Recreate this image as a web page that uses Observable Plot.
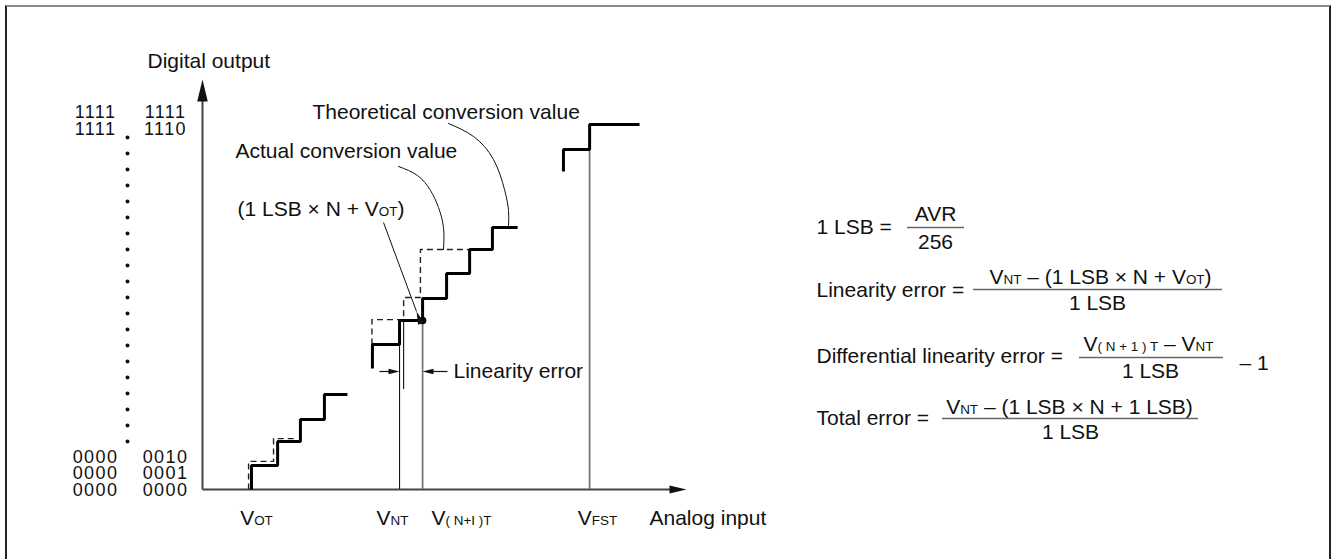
<!DOCTYPE html>
<html><head><meta charset="utf-8">
<script src="https://cdn.jsdelivr.net/npm/d3@7"></script>
<script src="https://cdn.jsdelivr.net/npm/@observablehq/plot@0.6"></script>
<style>
body{margin:0;background:#fff;}
#wrap{position:relative;width:1331px;height:559px;overflow:hidden;}
#frame{position:absolute;left:5px;top:5px;width:1326px;height:600px;border-top:2px solid #888;border-left:2px solid #222;border-right:2px solid #222;box-sizing:border-box;}
#chart{position:absolute;left:0;top:0;}
</style></head><body>
<div id="wrap"><div id="frame"></div><div id="chart"></div></div>
<script>
// ---------------- DATA (analog input and digital code, both in LSB units) ----------------
// Actual conversion value: end of each code's run on the analog axis, and the code level
const actualLowEnd  = [2.04, 3.13, 4.08, 5.08, 6.04];
const actualLowCode = [0, 1.00, 2.00, 2.92, 3.96];
const actualMidEnd  = [7.08, 8.21, 9.17, 10.17, 11.13, 12.08, 13.13];
const actualMidCode = [5.04, 6.04, 7.04, 7.96, 9.00, 10.00, 10.92];
const actualTopEnd  = [15.04, 16.13, 18.21];
const actualTopCode = [13.25, 14.17, 15.21];
// Theoretical conversion value
const theoLowEnd  = [1.92, 2.96, 3.96];
const theoLowCode = [0, 1.17, 2.12];
const theoMidEnd  = [7.06, 8.38, 9.08, 11.08];
const theoMidCode = [6.04, 7.08, 8.00, 10.00];
// Transition points (VNT, V(N+1)T, VFST) and guide lines
const thinGuideX  = [8.21, 8.38];
const thinGuideLo = [0, 4.17];
const thinGuideHi = [6.04, 7.08];
const grayGuideX  = [9.17, 16.13];
const grayGuideHi = [7.04, 14.17];
const markedPoint = {x: 9.17, code: 7.04};
// Tick / code labels
const xTickLabels   = ["V{OT}", "V{NT}", "V{( N+I )T}", "V{FST}"];
const codeLeftTop   = ["1111", "1111"];
const codeRightTop  = ["1111", "1110"];
const codeLeftBot   = ["0000", "0000", "0000"];
const codeRightBot  = ["0010", "0001", "0000"];

// ---------------- LAYOUT (pixel placement of the figure) ----------------
const W = 1331, H = 559, OX = 202, OY = 489, LSB = 24;
const X = px => (px - OX) / LSB;
const Y = py => (OY - py) / LSB;
const FONT = "Liberation Sans, Arial, Helvetica, sans-serif";
const FS = 21, CODE_FS = 18;

const pts = (xs, ys) => xs.map((x, i) => ({x, y: ys[i]}));
const P = arr => arr.map(([px, py]) => ({x: X(px), y: Y(py)}));

const headSymbol = {
  draw(ctx, size) {
    const r = Math.sqrt(size / Math.PI), w = r * 0.24;
    ctx.moveTo(0, 0); ctx.lineTo(-w, r); ctx.lineTo(w, r); ctx.closePath();
  }
};
const head = (x, y, rotate, len) => Plot.dot([{x, y}], {x: "x", y: "y", r: len, rotate, symbol: headSymbol, fill: "#111", stroke: "none"});

const stepStyle = {x: "x", y: "y", curve: "step-before", strokeLinejoin: "miter", strokeLinecap: "butt"};
const solid = {...stepStyle, stroke: "#000", strokeWidth: 3};
const dashed = {...stepStyle, stroke: "#222", strokeWidth: 1.4, strokeDasharray: "6,4"};

const theoLeader = P([[448,123],[473,136],[493,159],[504,189],[508,210],[508,226]]);
const actLeader  = P([[398,166],[417,175],[430,190],[438,207],[443,227],[443,249]]);

const annArrow = {x1: X(383), y1: Y(222), x2: X(416), y2: Y(311)};
const annRot = Math.atan2(annArrow.x2 - annArrow.x1, annArrow.y2 - annArrow.y1) * 180 / Math.PI;

const T = (items, opts) => Plot.text(items, {x: "x", y: "y", text: "t", fontSize: FS, fill: "#111", ...opts});
const t = (tx, px, py) => ({t: tx, x: X(px), y: Y(py)});
// stacked code labels: one multi-line text per column block
const codeBlock = (rows, px, pyCenter, rowPx) =>
  Plot.text([{t: rows.join("\n"), x: X(px), y: Y(pyCenter)}],
    {x: "x", y: "y", text: "t", fontSize: CODE_FS, lineHeight: rowPx / CODE_FS, textAnchor: "middle", fill: "#111"});

const plot = Plot.plot({
  width: W, height: H,
  marginTop: 0, marginRight: 0, marginBottom: 0, marginLeft: 0,
  x: {domain: [X(0), X(W)], axis: null},
  y: {domain: [Y(H), Y(0)], axis: null},
  style: {fontFamily: FONT, background: "transparent", overflow: "visible"},
  marks: [
    // axes
    Plot.link([{x1: 0, y1: 0, x2: 0, y2: Y(92)}, {x1: 0, y1: 0, x2: X(676), y2: 0}],
      {x1: "x1", y1: "y1", x2: "x2", y2: "y2", stroke: "#444", strokeWidth: 2}),
    head(0, Y(79), 0, 22),
    head(X(686), 0, 90, 17),
    // guide lines
    Plot.ruleX(thinGuideX.map((x, i) => ({x, y1: thinGuideLo[i], y2: thinGuideHi[i]})),
      {x: "x", y1: "y1", y2: "y2", stroke: "#111", strokeWidth: 1.1}),
    Plot.ruleX(grayGuideX.map((x, i) => ({x, y1: 0, y2: grayGuideHi[i]})),
      {x: "x", y1: "y1", y2: "y2", stroke: "#777", strokeWidth: 1.8}),
    // theoretical (dashed)
    Plot.line(pts(theoLowEnd, theoLowCode), dashed),
    Plot.line(pts(theoMidEnd, theoMidCode), dashed),
    // actual (solid)
    Plot.line(pts(actualLowEnd, actualLowCode), solid),
    Plot.line(pts(actualMidEnd, actualMidCode), solid),
    Plot.line(pts(actualTopEnd, actualTopCode), solid),
    Plot.dot([markedPoint], {x: "x", y: "code", r: 3.8, fill: "#000"}),
    // leaders
    Plot.line(theoLeader, {x: "x", y: "y", curve: "natural", stroke: "#111", strokeWidth: 1}),
    Plot.line(actLeader, {x: "x", y: "y", curve: "natural", stroke: "#111", strokeWidth: 1}),
    // annotation arrow
    Plot.link([annArrow], {x1: "x1", y1: "y1", x2: "x2", y2: "y2", stroke: "#111", strokeWidth: 1}),
    head(annArrow.x2, annArrow.y2, annRot + 180, 13),
    // linearity error arrows
    Plot.link([{x1: X(379), x2: X(392), y: Y(371)}, {x1: X(447), x2: X(430), y: Y(371)}],
      {x1: "x1", y1: "y", x2: "x2", y2: "y", stroke: "#111", strokeWidth: 1.2}),
    head(X(399), Y(371), 90, 11),
    head(X(422), Y(371), -90, 11),
    // vertical ellipsis between code labels
    Plot.dot(d3.range(20).map(i => ({x: X(127), y: Y(137 + i * 16)})), {x: "x", y: "y", r: 2, fill: "#111"}),
    // code labels
    codeBlock(codeLeftTop, 95, 120.5, 17),
    codeBlock(codeRightTop, 165, 120.5, 17),
    codeBlock(codeLeftBot, 95, 473.5, 16.5),
    codeBlock(codeRightBot, 165, 473.5, 16.5),
    // x tick labels
    T(xTickLabels.map((c, i) => t(c, [256, 392, 461, 597][i], 518)), {textAnchor: "middle"}),
    // titles / annotations
    T([t("Digital output", 147, 61), t("Analog input", 649, 518),
       t("Theoretical conversion value", 312, 112), t("Actual conversion value", 235, 151),
       t("Linearity error", 453, 371)], {textAnchor: "start"}),
    T([t("(1 LSB × N + V{OT})", 404, 209)], {textAnchor: "end"}),
    // formulas: labels
    T([t("1 LSB =", 816, 227), t("Linearity error =", 816, 290),
       t("Differential linearity error =", 816, 356), t("Total error =", 816, 418),
       t("– 1", 1239, 363)], {textAnchor: "start"}),
    // formulas: numerators / denominators
    T([t("AVR", 935, 214), t("256", 935, 242),
       t("V{NT} – (1 LSB × N + V{OT})", 1100, 277), t("1 LSB", 1097, 303),
       t("V{( N + 1 ) T} – V{NT}", 1148, 344), t("1 LSB", 1150, 371),
       t("V{NT} – (1 LSB × N + 1 LSB)", 1069, 407), t("1 LSB", 1070, 432)], {textAnchor: "middle"}),
    // fraction bars
    Plot.ruleY([{y: Y(227), x1: X(907), x2: X(964)}, {y: Y(289), x1: X(973), x2: X(1222)},
                {y: Y(357), x1: X(1079), x2: X(1223)}, {y: Y(418), x1: X(942), x2: X(1198)}],
      {y: "y", x1: "x1", x2: "x2", stroke: "#666", strokeWidth: 1.5})
  ]
});

// render {…} parts as small same-baseline text (subscript style); widen the code digits
plot.querySelectorAll("text").forEach(el => {
  const s = el.textContent;
  if (/^[01]+$/.test(s)) { el.setAttribute("letter-spacing", "1.4"); return; }
  if (!s.includes("{")) return;
  el.textContent = "";
  s.split(/(\{[^}]*\})/).filter(p => p.length).forEach(p => {
    const ts = document.createElementNS("http://www.w3.org/2000/svg", "tspan");
    if (p.startsWith("{")) { ts.textContent = p.slice(1, -1); ts.setAttribute("font-size", "0.64em"); }
    else ts.textContent = p;
    el.appendChild(ts);
  });
});
document.getElementById("chart").appendChild(plot);
</script>
</body></html>
